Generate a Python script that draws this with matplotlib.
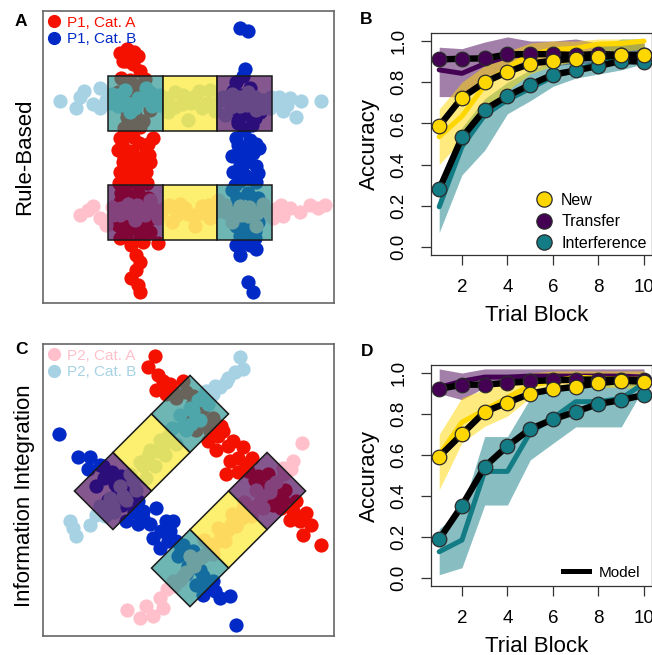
import numpy as np
import matplotlib
matplotlib.use('Agg')
import matplotlib.pyplot as plt
from matplotlib.colors import to_rgba
from matplotlib.lines import Line2D
from matplotlib.patches import Polygon

plt.rcParams['font.family'] = ['Liberation Sans', 'DejaVu Sans']

FIG_W, FIG_H = 652, 655

# Trial stimuli in stimulus space (arbitrary units), rule-based structure
rb_p1_cat_a = [(77, 250), (84, 254), (91, 251), (95, 247), (83, 242), (90, 239), (97, 232), (80, 242),
               (87, 223), (95, 217), (85, 208), (99, 203), (82, 195), (92, 188), (88, 181), (97, 176),
               (81, 175), (75, 211), (107, 193), (77, 165), (90, 166), (110, 165), (105, 159), (87, 152),
               (100, 146), (75, 153), (89, 151), (103, 151), (81, 145), (94, 143), (107, 141), (85, 137),
               (98, 135), (77, 131), (91, 128), (103, 131), (85, 121), (100, 125), (95, 119), (80, 141),
               (82, 113), (95, 110), (105, 105), (77, 101), (89, 97), (102, 93), (85, 87), (97, 83),
               (75, 78), (91, 75), (107, 71), (83, 67), (97, 65), (77, 65), (88, 58), (100, 61),
               (115, 60), (93, 48), (97, 41), (93, 33), (88, 25), (95, 18), (97, 11),
               (79, 158), (96, 160), (84, 130), (106, 148), (92, 122), (76, 120), (104, 120), (88, 170),
               (78, 110), (92, 104), (100, 100), (80, 90), (95, 90), (106, 84), (88, 80), (80, 72),
               (102, 76), (100, 182), (84, 186), (104, 210), (90, 200), (78, 225), (102, 224)]
rb_p1_cat_b = [(197, 275), (205, 272), (202, 234), (200, 227), (193, 221), (207, 215), (198, 208),
               (212, 201), (190, 195), (203, 189), (195, 183), (209, 178), (201, 173), (217, 191),
               (193, 165), (213, 159), (200, 153), (216, 155), (189, 147), (205, 145), (197, 138),
               (213, 137), (190, 131), (203, 127), (197, 122), (213, 121), (207, 163), (195, 158),
               (203, 141), (189, 113), (205, 110), (215, 105), (195, 100), (209, 95), (189, 89),
               (202, 85), (215, 81), (193, 77), (207, 73), (197, 67), (212, 65), (193, 58), (207, 58),
               (213, 54), (197, 48), (205, 21), (210, 11),
               (195, 150), (210, 150), (200, 130), (215, 130), (192, 118), (206, 125), (194, 105),
               (210, 100), (200, 92), (214, 88), (190, 82), (205, 80), (198, 72), (212, 72), (203, 60),
               (190, 212), (205, 200), (195, 180), (212, 185)]
rb_p2_cat_a = [(37, 88), (45, 93), (50, 97), (57, 85), (63, 78), (69, 96), (77, 88), (85, 99), (92, 83),
               (99, 93), (107, 103), (115, 85), (122, 95), (129, 81), (137, 99), (145, 89), (152, 77),
               (159, 97), (167, 85), (175, 103), (182, 91), (189, 81), (197, 97), (205, 87), (213, 77),
               (220, 99), (227, 89), (234, 95), (240, 87), (247, 95), (257, 91), (267, 98), (275, 95),
               (282, 98),
               (70, 88), (78, 95), (86, 90), (94, 98), (102, 88), (110, 95), (118, 90), (126, 98),
               (134, 88), (142, 95), (150, 88), (158, 90), (166, 98), (174, 92), (182, 98), (190, 90),
               (198, 88), (206, 96), (214, 90), (222, 93), (230, 85), (238, 98)]
rb_p2_cat_b = [(17, 202), (33, 195), (37, 206), (41, 212), (50, 199), (57, 215), (57, 195), (63, 203),
               (69, 209), (75, 197), (82, 213), (87, 191), (95, 205), (103, 215), (109, 197), (117, 208),
               (125, 191), (132, 211), (139, 199), (145, 183), (152, 207), (159, 195), (167, 213),
               (175, 201), (182, 188), (189, 209), (197, 197), (205, 211), (213, 193), (220, 203),
               (227, 195), (233, 199), (240, 192), (247, 205), (253, 186), (258, 202), (278, 202),
               (68, 200), (76, 208), (84, 200), (92, 195), (100, 203), (108, 210), (116, 198),
               (124, 205), (132, 196), (140, 208), (148, 200), (156, 212), (164, 200), (172, 192),
               (180, 206), (188, 196), (196, 206), (204, 198), (212, 206), (220, 195), (228, 206),
               (236, 206), (244, 198)]

# Trial stimuli, information-integration structure
ii_p1_cat_a = [(112, 280), (105, 269), (115, 261), (113, 246), (127, 252), (140, 255), (123, 242),
               (133, 238), (143, 244), (149, 231), (157, 222), (142, 216), (163, 212), (153, 206),
               (167, 205), (180, 205), (173, 186), (190, 195), (200, 189), (187, 175), (203, 172),
               (183, 162), (195, 164), (209, 178), (212, 156), (225, 150), (235, 141), (219, 136),
               (242, 146), (230, 131), (253, 135), (263, 123), (247, 116), (268, 111), (260, 101),
               (278, 91),
               (120, 255), (130, 245), (150, 240), (160, 228), (170, 218), (175, 200), (185, 190),
               (195, 178), (205, 165), (215, 160), (220, 148), (230, 145), (238, 128), (250, 125),
               (257, 115), (165, 195), (178, 210), (225, 162), (240, 135)]
ii_p1_cat_b = [(16, 202), (35, 179), (47, 179), (45, 167), (57, 171), (61, 158), (69, 164), (53, 150),
               (75, 146), (65, 136), (79, 131), (83, 115), (91, 124), (100, 125), (113, 128), (107, 112),
               (123, 115), (110, 98), (127, 105), (117, 88), (133, 95), (140, 91), (135, 80), (149, 76),
               (143, 62), (157, 66), (153, 51), (170, 55), (160, 41), (177, 38), (187, 40), (193, 11),
               (60, 170), (72, 152), (85, 140), (95, 135), (88, 150), (100, 118), (118, 105), (125, 95),
               (138, 86), (145, 70), (150, 85), (160, 60), (165, 50), (172, 45), (78, 160), (95, 112),
               (130, 115)]
ii_p2_cat_a = [(259, 193), (248, 167), (241, 162), (233, 154), (227, 144), (219, 140), (213, 130),
               (205, 126), (199, 118), (193, 110), (185, 106), (179, 96), (171, 92), (165, 84), (157, 78),
               (151, 70), (143, 64), (137, 56), (131, 50), (124, 47), (117, 38), (120, 28), (110, 20),
               (97, 18), (84, 26), (103, 30), (213, 146), (201, 134), (189, 122), (175, 108), (161, 96),
               (147, 80),
               (250, 175), (240, 168), (228, 150), (220, 128), (208, 120), (195, 118), (188, 112),
               (178, 100), (168, 88), (160, 80), (150, 74), (140, 60), (130, 55), (200, 128), (182, 95),
               (170, 82)]
ii_p2_cat_b = [(197, 279), (192, 264), (200, 267), (183, 254), (177, 249), (170, 242), (163, 245),
               (155, 236), (147, 228), (157, 216), (137, 221), (143, 206), (129, 208), (133, 192),
               (117, 196), (122, 181), (107, 186), (112, 170), (97, 174), (103, 158), (87, 162), (93, 146),
               (77, 150), (83, 136), (67, 138), (71, 124), (57, 130), (53, 121), (47, 111), (27, 115),
               (30, 108), (33, 100),
               (185, 258), (172, 250), (165, 232), (150, 225), (140, 210), (125, 200), (115, 185),
               (100, 170), (90, 155), (80, 140), (70, 130), (62, 120), (160, 240), (148, 212),
               (120, 190), (105, 180)]

# Test regions: grid column / row of each square and its type
region_col = [-1, 0, 1, -1, 0, 1]
region_row = [1, 1, 1, -1, -1, -1]
region_kind = ['Interference', 'New', 'Transfer', 'Transfer', 'New', 'Interference']
grid_centre = (147, 145)
grid_size = 54.5

blocks = np.arange(1, 11)
kinds = ['Transfer', 'Interference', 'New']

# Rule-based accuracy: model (points) and participants (line, band)
rb_model_new = [0.587, 0.725, 0.80, 0.85, 0.89, 0.905, 0.915, 0.922, 0.93, 0.932]
rb_model_transfer = [0.911, 0.914, 0.916, 0.935, 0.937, 0.936, 0.932, 0.937, 0.933, 0.932]
rb_model_interference = [0.28, 0.532, 0.667, 0.733, 0.788, 0.837, 0.857, 0.879, 0.903, 0.90]
rb_data_new = [0.535, 0.635, 0.785, 0.87, 0.935, 0.958, 0.965, 0.985, 0.988, 1.0]
rb_data_transfer = [0.86, 0.843, 0.89, 0.925, 0.935, 0.935, 0.93, 0.935, 0.935, 0.93]
rb_data_interference = [0.195, 0.487, 0.64, 0.714, 0.77, 0.827, 0.862, 0.89, 0.925, 0.93]
rb_new_lo = [0.40, 0.52, 0.66, 0.76, 0.84, 0.88, 0.90, 0.93, 0.95, 0.96]
rb_new_hi = [0.67, 0.80, 0.88, 0.95, 0.99, 1.0, 1.0, 1.01, 1.01, 1.01]
rb_transfer_lo = [0.73, 0.73, 0.825, 0.86, 0.88, 0.88, 0.89, 0.89, 0.90, 0.90]
rb_transfer_hi = [0.97, 0.963, 0.995, 1.02, 1.0, 1.0, 1.01, 0.99, 1.0, 0.99]
rb_interference_lo = [0.07, 0.35, 0.47, 0.647, 0.71, 0.78, 0.82, 0.84, 0.86, 0.89]
rb_interference_hi = [0.30, 0.58, 0.72, 0.80, 0.86, 0.90, 0.93, 0.97, 1.01, 1.01]

# Information-integration accuracy
ii_model_new = [0.592, 0.702, 0.811, 0.855, 0.90, 0.92, 0.933, 0.95, 0.962, 0.958]
ii_model_transfer = [0.922, 0.943, 0.943, 0.952, 0.96, 0.965, 0.968, 0.968, 0.968, 0.965]
ii_model_interference = [0.189, 0.353, 0.543, 0.644, 0.727, 0.774, 0.811, 0.849, 0.868, 0.893]
ii_data_new = [0.60, 0.76, 0.82, 0.88, 0.94, 0.96, 0.98, 0.975, 0.97, 0.97]
ii_data_transfer = [0.93, 0.96, 0.98, 0.98, 0.985, 0.985, 0.985, 0.985, 0.985, 0.98]
ii_data_interference = [0.128, 0.185, 0.52, 0.52, 0.71, 0.78, 0.86, 0.86, 0.876, 0.95]
ii_new_lo = [0.43, 0.66, 0.74, 0.79, 0.88, 0.92, 0.93, 0.93, 0.93, 0.92]
ii_new_hi = [0.70, 0.88, 0.92, 0.97, 1.0, 1.01, 1.01, 1.01, 1.01, 1.01]
ii_transfer_lo = [0.90, 0.87, 0.93, 0.94, 0.94, 0.95, 0.95, 0.95, 0.94, 0.94]
ii_transfer_hi = [1.02, 1.0, 1.02, 1.02, 1.02, 1.02, 1.02, 1.02, 1.02, 1.02]
ii_interference_lo = [0.016, 0.05, 0.356, 0.356, 0.576, 0.657, 0.737, 0.737, 0.737, 0.93]
ii_interference_hi = [0.24, 0.33, 0.69, 0.69, 0.876, 0.94, 0.95, 0.96, 0.97, 1.0]

KIND_COLORS = {'New': '#FFD700', 'Transfer': '#440154', 'Interference': '#137c85'}
REGION_COLORS = {'New': '#FDE725', 'Transfer': '#440154', 'Interference': '#21908C'}
RED, BLUE, PINK, LIGHTBLUE = '#f41100', '#0029c6', '#ffc0cb', '#a6d2e4'


def px_axes(left, top, right, bottom):
    return fig.add_axes([left / FIG_W, 1 - bottom / FIG_H, (right - left) / FIG_W, (bottom - top) / FIG_H])


def draw_regions(ax, rotated):
    if rotated:
        u = grid_size * np.array([-1.0, -1.0]) / np.sqrt(2)
        v = grid_size * np.array([-1.0, 1.0]) / np.sqrt(2)
    else:
        u = np.array([grid_size, 0.0])
        v = np.array([0.0, grid_size])
    for col, row, kind in zip(region_col, region_row, region_kind):
        c = np.asarray(grid_centre, float) + col * u + row * v
        corners = [c - u / 2 - v / 2, c + u / 2 - v / 2, c + u / 2 + v / 2, c - u / 2 + v / 2]
        face = to_rgba(REGION_COLORS[kind], 0.66)
        ax.add_patch(Polygon(corners, closed=True, facecolor=face, edgecolor='#1a1a1a', lw=1.1, zorder=3))


def draw_space(ax, groups, legend_groups, rotated):
    for pts, color in groups:
        xy = np.array(pts, float)
        ax.scatter(xy[:, 0], xy[:, 1], s=105, color=color, linewidths=0, zorder=2)
    draw_regions(ax, rotated)
    ax.set_xlim(0, 291)
    ax.set_ylim(0, 292)
    ax.set_xticks([])
    ax.set_yticks([])
    for sp in ax.spines.values():
        sp.set_color('#666666')
        sp.set_linewidth(1.2)
    handles = [Line2D([], [], ls='none', marker='o', ms=9.5, mfc=c, mec='none') for _, c in legend_groups]
    ax.legend(handles, [lab for lab, _ in legend_groups], loc='upper left', frameon=False,
              fontsize=11, labelcolor='markerfacecolor', handlelength=0.9, handletextpad=0.4,
              borderaxespad=0.15, borderpad=0.15, labelspacing=0.17)


def draw_curves(ax, model, data, lo, hi):
    for kind in kinds:
        ax.fill_between(blocks, lo[kind], hi[kind], color=KIND_COLORS[kind], alpha=0.5, lw=0, zorder=1)
    for kind in kinds:
        ax.plot(blocks, data[kind], color=KIND_COLORS[kind], lw=3.6, solid_capstyle='round',
                solid_joinstyle='round', zorder=2)
    for i, kind in enumerate(kinds):
        ax.plot(blocks, model[kind], color='black', lw=4.6, zorder=3 + 2 * i)
        ax.plot(blocks, model[kind], ls='none', marker='o', ms=10.5, mfc=KIND_COLORS[kind],
                mec='#2a2a2a', mew=0.9, zorder=4 + 2 * i)
    ax.set_xlim(0.64, 10.36)
    ax.set_ylim(-0.04, 1.04)
    ax.set_xticks([2, 4, 6, 8, 10])
    ax.set_yticks([0.0, 0.2, 0.4, 0.6, 0.8, 1.0])
    ax.set_yticklabels(['0.0', '0.2', '0.4', '0.6', '0.8', '1.0'], rotation=90, va='center')
    ax.tick_params(direction='out', length=7.5, width=0.9, labelsize=13.5, color='#333333')
    ax.tick_params(axis='x', pad=9.5)
    ax.tick_params(axis='y', pad=9.5)
    for sp in ax.spines.values():
        sp.set_color('#333333')
        sp.set_linewidth(0.9)
    ax.set_ylabel('Accuracy', fontsize=16)
    ax.set_xlabel('Trial Block', fontsize=16)
    ax.yaxis.set_label_coords(-0.23, 0.5)
    ax.xaxis.set_label_coords(0.477, -0.225)


fig = plt.figure(figsize=(FIG_W / 100, FIG_H / 100), dpi=100)

ax_a = px_axes(43, 11, 334, 303)
draw_space(ax_a, [(rb_p1_cat_a, RED), (rb_p1_cat_b, BLUE), (rb_p2_cat_a, PINK), (rb_p2_cat_b, LIGHTBLUE)],
           [('P1, Cat. A', RED), ('P1, Cat. B', BLUE)], rotated=False)

ax_c = px_axes(43, 344, 334, 636)
draw_space(ax_c, [(ii_p1_cat_a, RED), (ii_p1_cat_b, BLUE), (ii_p2_cat_a, PINK), (ii_p2_cat_b, LIGHTBLUE)],
           [('P2, Cat. A', PINK), ('P2, Cat. B', LIGHTBLUE)], rotated=True)

ax_b = px_axes(431, 32.8, 652.2, 255.2)
draw_curves(ax_b,
            {'New': rb_model_new, 'Transfer': rb_model_transfer, 'Interference': rb_model_interference},
            {'New': rb_data_new, 'Transfer': rb_data_transfer, 'Interference': rb_data_interference},
            {'New': rb_new_lo, 'Transfer': rb_transfer_lo, 'Interference': rb_interference_lo},
            {'New': rb_new_hi, 'Transfer': rb_transfer_hi, 'Interference': rb_interference_hi})
kind_handles = [Line2D([], [], ls='none', marker='o', ms=11, mfc=KIND_COLORS[k], mec='#2a2a2a', mew=0.9)
                for k in ['New', 'Transfer', 'Interference']]
ax_b.legend(kind_handles, ['New', 'Transfer', 'Interference'], loc='lower right',
            bbox_to_anchor=(0.975, 0.02), frameon=False, fontsize=11.5, handlelength=1.0,
            handletextpad=0.6, borderpad=0, borderaxespad=0, labelspacing=0.4)

ax_d = px_axes(431, 364.8, 652.2, 586.2)
draw_curves(ax_d,
            {'New': ii_model_new, 'Transfer': ii_model_transfer, 'Interference': ii_model_interference},
            {'New': ii_data_new, 'Transfer': ii_data_transfer, 'Interference': ii_data_interference},
            {'New': ii_new_lo, 'Transfer': ii_transfer_lo, 'Interference': ii_interference_lo},
            {'New': ii_new_hi, 'Transfer': ii_transfer_hi, 'Interference': ii_interference_hi})
ax_d.legend([Line2D([], [], color='black', lw=3.6)], ['Model'], loc='lower right',
            bbox_to_anchor=(0.945, 0.03), frameon=False, fontsize=11, handlelength=1.65,
            handletextpad=0.65, borderpad=0, borderaxespad=0)

for label, x, y in [('A', 21, 21), ('B', 366, 20), ('C', 21, 350), ('D', 367, 352)]:
    fig.text(x / FIG_W, 1 - y / FIG_H, label, fontsize=12.5, fontweight='bold', ha='center', va='center')

fig.text(25 / FIG_W, 1 - 157 / FIG_H, 'Rule-Based', rotation=90, fontsize=16, ha='center', va='center')
fig.text(25 / FIG_W, 1 - 496 / FIG_H, 'Information Integration', rotation=90, fontsize=16,
         ha='center', va='center')

fig.savefig('out.png', dpi=100)
